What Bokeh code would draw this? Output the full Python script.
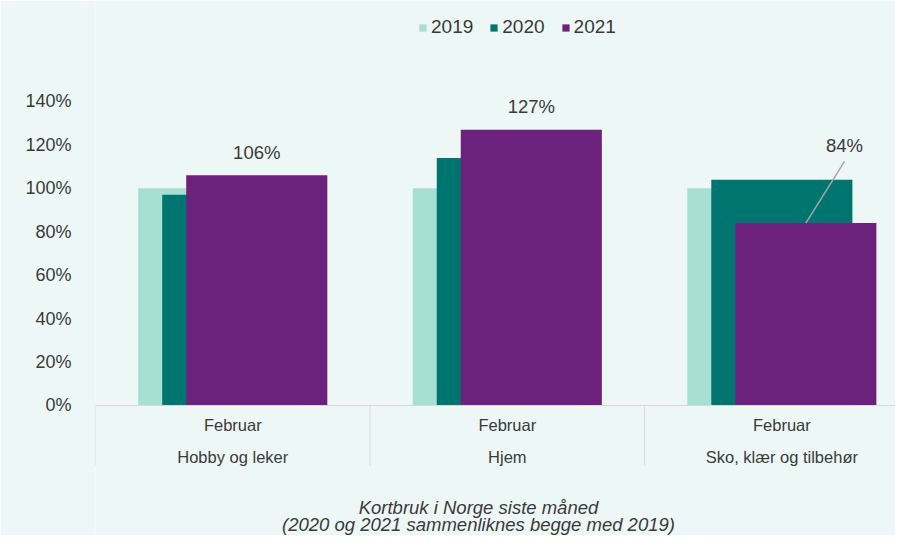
from bokeh.plotting import figure
from bokeh.models import Range1d, FixedTicker, PrintfTickFormatter, Span, Legend, LegendItem, ColumnDataSource
from bokeh.core.properties import value
from bokeh.embed import file_html
from bokeh.resources import INLINE

# ---- data ----
categories = ["Hobby og leker", "Hjem", "Sko, klær og tilbehør"]
months = ["Februar", "Februar", "Februar"]
series_names = ["2019", "2020", "2021"]
v2019 = [100, 100, 100]
v2020 = [97, 114, 104]
v2021 = [106, 127, 84]
yticks = [0, 20, 40, 60, 80, 100, 120, 140]
title_lines = ["Kortbruk i Norge siste måned", "(2020 og 2021 sammenliknes begge med 2019)"]

# ---- style ----
BG = "#edf8f6"
COLORS = ["#a6e0d3", "#007570", "#6c227c"]
TXT = "#3a3a3a"
FONT = value("Liberation Sans")
BAR_W = 0.514
OFFSET = 0.0874

W, H = 895, 535
p = figure(width=W, height=H, output_backend="svg", toolbar_location=None,
           x_range=Range1d(0, 2.914), y_range=Range1d(-59.87, 186.51),
           min_border_left=95, min_border_right=0, min_border_top=0, min_border_bottom=0)
p.background_fill_color = BG
p.border_fill_color = BG
p.outline_line_color = None
p.xaxis.visible = False
p.xgrid.visible = False
p.ygrid.visible = False

yax = p.yaxis[0]
yax.ticker = FixedTicker(ticks=yticks)
yax.formatter = PrintfTickFormatter(format="%d%%")
yax.axis_line_color = None
yax.major_tick_line_color = None
yax.minor_tick_line_color = None
yax.major_label_standoff = 18
yax.major_label_text_font = "Liberation Sans"
yax.major_label_text_font_size = "18px"
yax.major_label_text_color = TXT

n = len(categories)
centers = [i + 0.5 for i in range(n)]
renderers = []
for k, (vals, col) in enumerate(zip([v2019, v2020, v2021], COLORS)):
    xs = [c + (k - 1) * OFFSET for c in centers]
    src = ColumnDataSource(dict(x=xs, top=vals))
    r = p.vbar(x="x", top="top", bottom=0, width=BAR_W, source=src,
               fill_color=col, line_color=None)
    renderers.append(r)

# baseline and category separators
p.add_layout(Span(location=0, dimension="width", line_color="#d9d9d9", line_width=1))
bounds = [float(i) for i in range(n + 1)]
p.segment(x0=bounds, x1=bounds, y0=[0] * len(bounds), y1=[-27.6] * len(bounds),
          line_color="#d9d9d9", line_width=1)

# category labels
p.text(x=centers, y=[-9.2] * n, text=months, text_align="center", text_baseline="middle",
       text_font=FONT, text_font_size="16.5px", text_color=TXT)
p.text(x=centers, y=[-23.5] * n, text=categories, text_align="center", text_baseline="middle",
       text_font=FONT, text_font_size="16.5px", text_color=TXT)

# data labels for 2021
x21 = [c + OFFSET for c in centers]
lab_x = [x21[0], x21[1], x21[2] + 0.141]
lab_y = [v2021[0] + 10.3, v2021[1] + 10.7, v2021[2] + 35.7]
p.text(x=lab_x, y=lab_y, text=[f"{v}%" for v in v2021], text_align="center",
       text_baseline="middle", text_font=FONT, text_font_size="18.5px", text_color=TXT)
# leader line for 84%
p.segment(x0=[x21[2]], y0=[v2021[2]], x1=[x21[2] + 0.141], y1=[v2021[2] + 28.4],
          line_color="#a6a6a6", line_width=1.5)

# title below
p.text(x=[1.395, 1.395], y=[-47.0, -54.8], text=title_lines, text_align="center",
       text_baseline="middle", text_font=FONT, text_font_size="18.5px",
       text_font_style="italic", text_color=TXT)

legend = Legend(items=[LegendItem(label=s, renderers=[r]) for s, r in zip(series_names, renderers)],
                orientation="horizontal", location=(323, 497),
                padding=0, margin=0, spacing=16, label_standoff=4,
                glyph_width=9, glyph_height=9, label_height=20,
                label_text_font="Liberation Sans", label_text_font_size="19px",
                label_text_color=TXT, border_line_color=None, background_fill_alpha=0)
p.add_layout(legend, "center")

open("out.html", "w").write(file_html(p, INLINE))
